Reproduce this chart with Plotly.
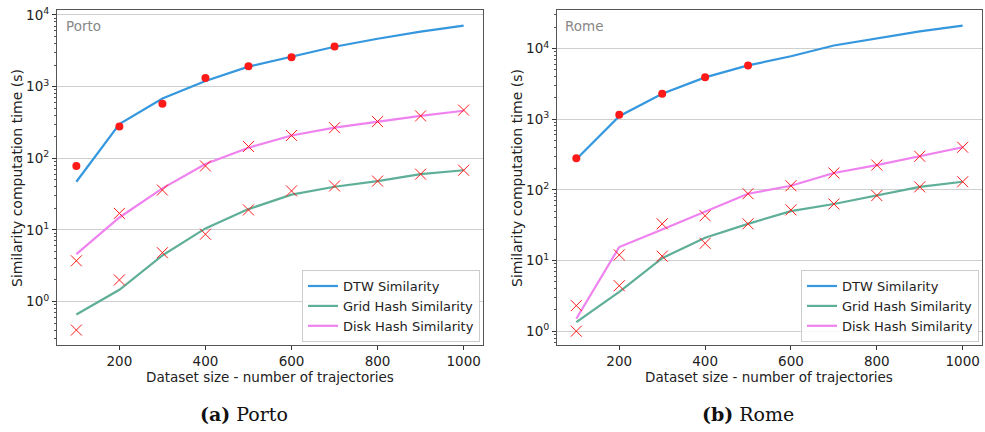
import plotly.graph_objects as go

sizes = [100, 200, 300, 400, 500, 600, 700, 800, 900, 1000]

# Porto
porto_dtw_fit = [47, 300, 680, 1200, 1900, 2600, 3600, 4650, 5850, 7100]
porto_dtw_meas_x = [100, 200, 300, 400, 500, 600, 700]
porto_dtw_meas = [78, 277, 575, 1320, 1920, 2570, 3630]
porto_grid_fit = [0.66, 1.46, 4.4, 10.5, 19.5, 31, 40, 48, 60, 68]
porto_grid_meas = [0.40, 2.0, 4.8, 8.7, 19, 35, 41, 48, 60, 68]
porto_disk_fit = [4.6, 14.9, 38, 83, 140, 208, 267, 325, 390, 460]
porto_disk_meas = [3.7, 17, 36, 78, 146, 208, 267, 325, 390, 470]

# Rome
rome_dtw_fit = [270, 1100, 2280, 3900, 5760, 7750, 11000, 14000, 17400, 21000]
rome_dtw_meas_x = [100, 200, 300, 400, 500]
rome_dtw_meas = [280, 1150, 2280, 3900, 5760]
rome_grid_fit = [1.34, 3.6, 10.8, 21, 33, 50, 63, 83, 110, 130]
rome_grid_meas = [1.0, 4.4, 11.5, 17.5, 33, 52, 63, 83, 110, 130]
rome_disk_fit = [1.5, 15.5, 27.5, 49, 88, 114, 173, 224, 298, 400]
rome_disk_meas = [2.3, 12, 33, 43, 88, 114, 173, 224, 298, 400]

x_ticks = [200, 400, 600, 800, 1000]
y_tickvals = [1, 10, 100, 1000, 10000]
y_ticktext = ["10<sup>0</sup>", "10<sup>1</sup>", "10<sup>2</sup>", "10<sup>3</sup>", "10<sup>4</sup>"]

C_DTW = "#3597de"
C_GRID = "#5fae98"
C_DISK = "#ee82ee"
C_MARK = "#ff1a1a"

FONT = "DejaVu Sans"

fig = go.Figure()


def add_panel(xa, ya, leg, dtw_fit, dtw_mx, dtw_m, grid_fit, grid_m, disk_fit, disk_m):
    fig.add_trace(go.Scatter(x=sizes, y=dtw_fit, mode="lines", name="DTW Similarity",
                             line=dict(color=C_DTW, width=2.2), xaxis=xa, yaxis=ya, legend=leg))
    fig.add_trace(go.Scatter(x=sizes, y=grid_fit, mode="lines", name="Grid Hash Similarity",
                             line=dict(color=C_GRID, width=2.2), xaxis=xa, yaxis=ya, legend=leg))
    fig.add_trace(go.Scatter(x=sizes, y=disk_fit, mode="lines", name="Disk Hash Similarity",
                             line=dict(color=C_DISK, width=2.2), xaxis=xa, yaxis=ya, legend=leg))
    fig.add_trace(go.Scatter(x=dtw_mx, y=dtw_m, mode="markers", showlegend=False,
                             marker=dict(color=C_MARK, size=8, symbol="circle"), xaxis=xa, yaxis=ya))
    for vals in (grid_m, disk_m):
        fig.add_trace(go.Scatter(x=sizes, y=vals, mode="markers", showlegend=False,
                                 marker=dict(color=C_MARK, size=11, symbol="x-thin-open",
                                             line=dict(color=C_MARK, width=1)),
                                 xaxis=xa, yaxis=ya))


add_panel("x", "y", "legend", porto_dtw_fit, porto_dtw_meas_x, porto_dtw_meas,
          porto_grid_fit, porto_grid_meas, porto_disk_fit, porto_disk_meas)
add_panel("x2", "y2", "legend2", rome_dtw_fit, rome_dtw_meas_x, rome_dtw_meas,
          rome_grid_fit, rome_grid_meas, rome_disk_fit, rome_disk_meas)

minor_vals = [m * 10 ** e for e in range(-1, 5) for m in range(2, 10)]

xaxis_common = dict(range=[55, 1045], tickvals=x_ticks, ticks="outside", ticklen=3.5,
                    tickcolor="#333", showline=True, linecolor="#555", linewidth=1, mirror=True,
                    showgrid=False, zeroline=False, tickfont=dict(family=FONT, size=13.5, color="#222"))
yaxis_common = dict(type="log", tickvals=y_tickvals, ticktext=y_ticktext, ticks="outside", ticklen=4,
                    tickcolor="#333", showline=True, linecolor="#555", linewidth=1, mirror=True,
                    showgrid=True, gridcolor="#cfcfcf", gridwidth=1, zeroline=False,
                    tickfont=dict(family=FONT, size=13.5, color="#222"),
                    minor=dict(tickvals=minor_vals, ticks="outside", ticklen=2, tickcolor="#555",
                               showgrid=False))

legend_common = dict(xanchor="right", yanchor="bottom", bgcolor="rgba(255,255,255,0.85)",
                     bordercolor="#cccccc", borderwidth=1, font=dict(family=FONT, size=13, color="#222"),
                     tracegroupgap=0, itemwidth=30)

fig.update_layout(
    width=985, height=432, margin=dict(l=0, r=0, t=0, b=0),
    paper_bgcolor="white", plot_bgcolor="white",
    xaxis=dict(domain=[57 / 985, 483 / 985], anchor="y", **xaxis_common),
    yaxis=dict(domain=[1 - 344 / 432, 1 - 5 / 432], anchor="x", range=[-0.607, 4.07], **yaxis_common),
    xaxis2=dict(domain=[557 / 985, 982 / 985], anchor="y2", **xaxis_common),
    yaxis2=dict(domain=[1 - 344 / 432, 1 - 5 / 432], anchor="x2", range=[-0.196, 4.545], **yaxis_common),
    legend=dict(x=480 / 985, y=1 - 341 / 432, **legend_common),
    legend2=dict(x=979 / 985, y=1 - 341 / 432, **legend_common),
    showlegend=True,
)

annotations = [
    dict(text="Porto", x=64, y=21, xanchor="left", yanchor="middle", font=dict(family=FONT, size=13.5, color="#888")),
    dict(text="Rome", x=563, y=21, xanchor="left", yanchor="middle", font=dict(family=FONT, size=13.5, color="#888")),
    dict(text="Similarity computation time (s)", x=17, y=175, textangle=-90, xanchor="center", yanchor="middle",
         font=dict(family=FONT, size=14, color="#222")),
    dict(text="Similarity computation time (s)", x=517, y=175, textangle=-90, xanchor="center", yanchor="middle",
         font=dict(family=FONT, size=14, color="#222")),
    dict(text="Dataset size - number of trajectories", x=270, y=376, xanchor="center", yanchor="middle",
         font=dict(family=FONT, size=13.5, color="#222")),
    dict(text="Dataset size - number of trajectories", x=769, y=376, xanchor="center", yanchor="middle",
         font=dict(family=FONT, size=13.5, color="#222")),
    dict(text="<b>(a)</b> Porto", x=244, y=414, xanchor="center", yanchor="middle",
         font=dict(family="DejaVu Serif", size=19, color="#111")),
    dict(text="<b>(b)</b> Rome", x=748, y=414, xanchor="center", yanchor="middle",
         font=dict(family="DejaVu Serif", size=19, color="#111")),
]
for a in annotations:
    a.update(xref="paper", yref="paper", showarrow=False)
    a["x"] = a["x"] / 985
    a["y"] = 1 - a["y"] / 432
fig.update_layout(annotations=annotations)

fig.write_html("out.html")
